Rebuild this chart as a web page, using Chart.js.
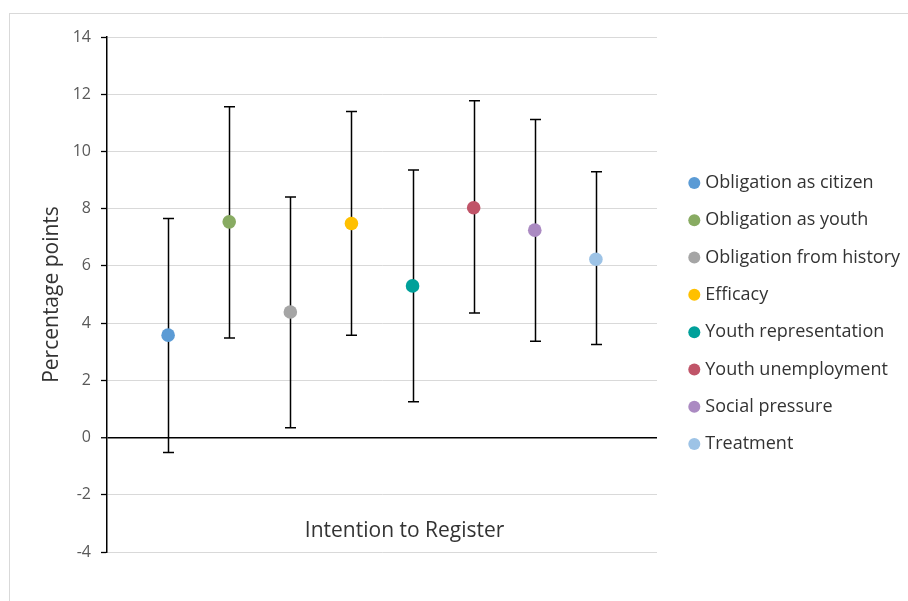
<!DOCTYPE html>
<html>
<head>
<meta charset="utf-8">
<title>Intention to Register</title>
<script src="https://cdn.jsdelivr.net/npm/chart.js@4.4.1/dist/chart.umd.min.js"></script>
<style>
    html, body { margin: 0; padding: 0; background: #fff; overflow: hidden; }
    #frame { position: absolute; left: 9px; top: 13px; width: 960px; height: 700px; border: 1px solid #d9d9d9; }
    #wrap { position: absolute; left: 0; top: 0; width: 908px; height: 601px; }
</style>
</head>
<body>
<div id="frame"></div>
<div id="wrap"><canvas id="chart" width="908" height="601"></canvas></div>
<script>
// Treatment effects on intention to register (percentage points)
const seriesLabels = [
    'Obligation as citizen',
    'Obligation as youth',
    'Obligation from history',
    'Efficacy',
    'Youth representation',
    'Youth unemployment',
    'Social pressure',
    'Treatment'
];
const seriesColors = ['#5B9BD5', '#88AB62', '#A5A5A5', '#FFC000', '#00A09A', '#C05468', '#AB8AC2', '#9DC3E6'];
const xPositions = [1, 2, 3, 4, 5, 6, 7, 8];
const estimates = [3.58, 7.54, 4.39, 7.48, 5.30, 8.03, 7.25, 6.23];
const upperCI = [7.66, 11.56, 8.41, 11.40, 9.35, 11.77, 11.12, 9.29];
const lowerCI = [-0.52, 3.48, 0.34, 3.58, 1.25, 4.35, 3.37, 3.25];

const yMin = -4;
const yMax = 14;
const yStep = 2;
const xMin = 0;
const xMax = 9;

const categoryLabel = 'Intention to Register';
const categoryLabelX = 4.87;
const categoryLabelY = -3.28;

const FONT = '"Open Sans", "DejaVu Sans", sans-serif';

// Error bars drawn under the markers
const errorBars = {
    id: 'errorBars',
    beforeDatasetsDraw(chart) {
        const ctx = chart.ctx;
        const x = chart.scales.x;
        const y = chart.scales.y;
        const cap = 5.5;
        ctx.save();
        ctx.strokeStyle = '#000';
        ctx.lineWidth = 1.5;
        estimates.forEach((v, i) => {
            const px = Math.round(x.getPixelForValue(xPositions[i])) + 0.5;
            const top = y.getPixelForValue(upperCI[i]);
            const bot = y.getPixelForValue(lowerCI[i]);
            ctx.beginPath();
            ctx.moveTo(px, top);
            ctx.lineTo(px, bot);
            ctx.moveTo(px - cap, top);
            ctx.lineTo(px + cap, top);
            ctx.moveTo(px - cap, bot);
            ctx.lineTo(px + cap, bot);
            ctx.stroke();
        });
        ctx.restore();
    }
};

// Category label sitting inside the plot, like the original
const categoryText = {
    id: 'categoryText',
    afterDatasetsDraw(chart) {
        const ctx = chart.ctx;
        ctx.save();
        ctx.font = '21px ' + FONT;
        ctx.fillStyle = '#333';
        ctx.textAlign = 'center';
        ctx.textBaseline = 'middle';
        ctx.fillText(categoryLabel,
            chart.scales.x.getPixelForValue(categoryLabelX),
            chart.scales.y.getPixelForValue(categoryLabelY));
        ctx.restore();
    }
};

// Fixed legend column with a small gap from the plot
const legendSpacer = {
    id: 'legendSpacer',
    beforeInit(chart) {
        const fit = chart.legend.fit;
        chart.legend.fit = function() {
            fit.call(this);
            this.width = 251;
        };
    },
    afterLayout(chart) {
        const lg = chart.legend;
        lg.left += 16;
        lg.right += 16;
        lg.top += 19;
        lg.bottom += 19;
    }
};

const datasets = seriesLabels.map((label, i) => ({
    label: label,
    data: [{ x: xPositions[i], y: estimates[i] }],
    backgroundColor: seriesColors[i],
    borderColor: seriesColors[i],
    pointBackgroundColor: seriesColors[i],
    pointBorderColor: seriesColors[i],
    pointBorderWidth: 0,
    pointRadius: 6.8,
    pointHoverRadius: 6.8,
    pointStyle: 'circle'
}));

new Chart(document.getElementById('chart').getContext('2d'), {
    type: 'scatter',
    data: { datasets: datasets },
    plugins: [errorBars, categoryText, legendSpacer],
    options: {
        responsive: false,
        animation: false,
        events: [],
        layout: {
            padding: { left: 29, top: 37, right: 0, bottom: 49 }
        },
        plugins: {
            tooltip: { enabled: false },
            legend: {
                position: 'right',
                labels: {
                    usePointStyle: true,
                    pointStyle: 'circle',
                    boxWidth: 4,
                    boxHeight: 8.5,
                    padding: 19.3,
                    color: '#333',
                    font: { family: FONT, size: 18 }
                }
            }
        },
        scales: {
            x: {
                type: 'linear',
                min: xMin,
                max: xMax,
                display: false
            },
            y: {
                min: yMin,
                max: yMax,
                afterFit(scale) {
                    scale.width = 78;
                },
                ticks: {
                    stepSize: yStep,
                    padding: 10,
                    color: '#595959',
                    font: { family: FONT, size: 16 }
                },
                grid: {
                    color: ctx => (ctx.tick && ctx.tick.value === 0 ? '#000' : '#d9d9d9'),
                    lineWidth: ctx => (ctx.tick && ctx.tick.value === 0 ? 1.5 : 1),
                    tickColor: '#000',
                    tickWidth: 1.3,
                    tickLength: 6
                },
                border: { display: true, color: '#000', width: 1.5 },
                title: {
                    display: true,
                    text: 'Percentage points',
                    color: '#333',
                    padding: { top: 10, bottom: 0 },
                    font: { family: FONT, size: 21 }
                }
            }
        }
    }
});
</script>
</body>
</html>
